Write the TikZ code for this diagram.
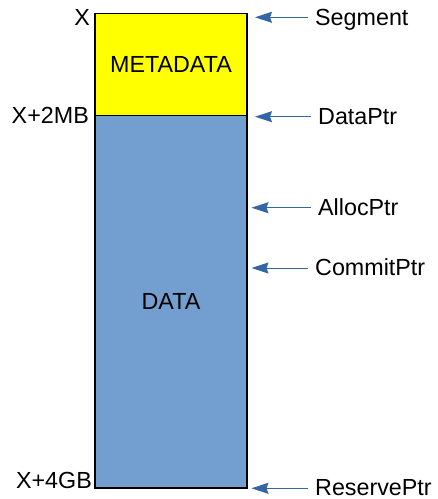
\documentclass[tikz,border=0pt]{standalone}
\usepackage{fontspec}
\setmainfont{Liberation Sans}
\usepackage{tikz}
\usetikzlibrary{positioning,arrows.meta}
\usepackage{xcolor}
\definecolor{metayellow}{HTML}{FFFF00}
\definecolor{datablue}{HTML}{729FCF}
\definecolor{ptrblue}{HTML}{3465A4}

\begin{document}
\begin{tikzpicture}[x=1pt, y=-1pt, >={Stealth[length=17pt,width=11pt,inset=2pt]},
    region/.style={draw=black, line width=1.2pt, minimum width=152pt, inner sep=0pt, outer sep=0pt},
    addr/.style={anchor=east, inner sep=0pt, text height=16.5pt, text depth=0pt},
    ptrname/.style={anchor=west, inner sep=0pt, text height=16.5pt, text depth=0pt},
    ptr/.style={->, draw=ptrblue, fill=ptrblue, line width=1pt, shorten <=7pt}]
    \useasboundingbox (0,0) rectangle (438,499);
    \fontsize{23.3}{27}\selectfont

    % Segment layout
    \node[region, fill=metayellow, minimum height=102pt] at (171,64.5) (meta) {METADATA};
    \node[region, fill=datablue, minimum height=372.5pt, below=0pt of meta] (data) {DATA};

    % Addresses
    \node[addr] at (90,17) (addrX) {X};
    \node[addr] at (89,115.5) (addr2MB) {X+2MB};
    \node[addr] at (92,480.5) (addr4GB) {X+4GB};

    % Pointers
    \node[ptrname] at (315,16.8) (seg) {Segment};
    \coordinate (segTip) at (255,17.3);
    \draw[ptr] (seg.west |- segTip) -- (segTip);

    \node[ptrname] at (318,116) (dptr) {DataPtr};
    \coordinate (dptrTip) at (255,116.7);
    \draw[ptr] (dptr.west |- dptrTip) -- (dptrTip);

    \node[ptrname] at (318,207) (aptr) {AllocPtr};
    \coordinate (aptrTip) at (251.5,207.7);
    \draw[ptr] (aptr.west |- aptrTip) -- (aptrTip);

    \node[ptrname] at (315,267.5) (cptr) {CommitPtr};
    \coordinate (cptrTip) at (251.5,268);
    \draw[ptr] (cptr.west |- cptrTip) -- (cptrTip);

    \node[ptrname] at (315,487) (rptr) {ReservePtr};
    \coordinate (rptrTip) at (251.5,488.3);
    \draw[ptr] (rptr.west |- rptrTip) -- (rptrTip);

\end{tikzpicture}
\end{document}
